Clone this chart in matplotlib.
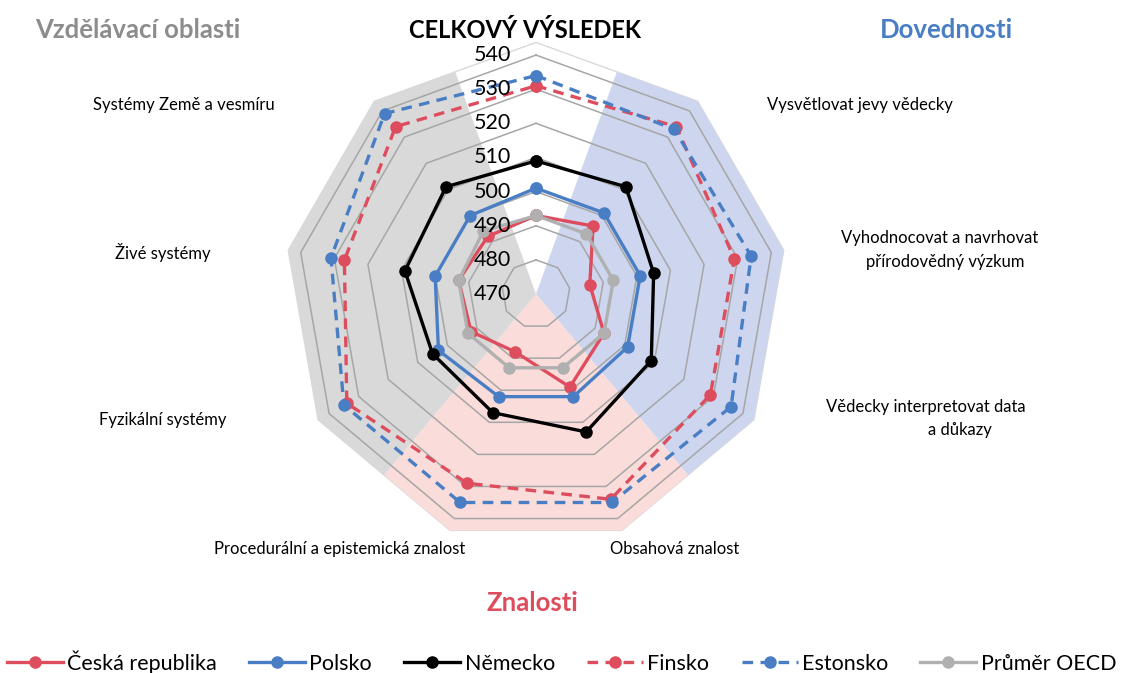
import numpy as np
import matplotlib
matplotlib.use("Agg")
import matplotlib.pyplot as plt
from matplotlib.lines import Line2D

plt.rcParams['font.family'] = ['Lato', 'DejaVu Sans']

# ---------------- data ----------------
categories = ["CELKOVÝ VÝSLEDEK", "Vysvětlovat jevy vědecky",
              "Vyhodnocovat a navrhovat přírodovědný výzkum",
              "Vědecky interpretovat data a důkazy", "Obsahová znalost",
              "Procedurální a epistemická znalost", "Fyzikální systémy",
              "Živé systémy", "Systémy Země a vesmíru"]
series_names = ["Česká republika", "Polsko", "Německo", "Finsko", "Estonsko", "Průměr OECD"]
cz = [493, 496, 486, 493, 499, 488, 492, 493, 492]
pl = [501, 501, 501, 501, 502, 502, 503, 500, 500]
de = [509, 511, 505, 509, 513, 507, 505, 509, 511]
fi = [531, 534, 529, 529, 534, 529, 534, 527, 534]
ee = [534, 533, 534, 536, 535, 535, 535, 531, 539]
oecd = [493, 493, 493, 493, 493, 493, 493, 493, 494]
ring_ticks = [470, 480, 490, 500, 510, 520, 530, 540]
r_min, r_max = 470, 545
bg_level = 543.7

# group sectors (category indices)
groups = {"Dovednosti": [1, 2, 3], "Znalosti": [4, 5], "Vzdělávací oblasti": [6, 7, 8]}
group_colors = {"Dovednosti": "#CDD6EE", "Znalosti": "#FADCDA", "Vzdělávací oblasti": "#D9D9D9"}

styles = [
    dict(color="#DE4D5D", ls="-"),
    dict(color="#4A7EC4", ls="-"),
    dict(color="#000000", ls="-"),
    dict(color="#DE4D5D", ls=(0, (3.2, 2.2))),
    dict(color="#4A7EC4", ls=(0, (3.2, 2.2))),
    dict(color="#B0B0B0", ls="-"),
]

W, H = 1123, 673
fig = plt.figure(figsize=(W / 100, H / 100), dpi=100)
cx, cy, rad = 536, 294, 256
ax = fig.add_axes([(cx - rad) / W, (H - cy - rad) / H, 2 * rad / W, 2 * rad / H], projection='polar')
ax.set_theta_zero_location('N')
ax.set_theta_direction(-1)
ax.set_ylim(r_min, r_max)
ax.axis('off')

n = len(categories)
step = 2 * np.pi / n
theta = np.arange(n) * step
theta_c = np.append(theta, theta[0])

# background nonagon
ax.fill(theta_c, [bg_level] * (n + 1), facecolor="white", edgecolor="#D9D9D9", lw=1.0, zorder=0)
half = step / 2
r_mid = r_min + (bg_level - r_min) * np.cos(half)
for g, idx in groups.items():
    th = [theta[idx[0]] - half] + [theta[i] for i in idx] + [theta[idx[-1]] + half, 0]
    rr = [r_mid] + [bg_level] * len(idx) + [r_mid, r_min]
    ax.fill(th, rr, facecolor=group_colors[g], edgecolor="none", zorder=0.5)

# rings
for v in ring_ticks[1:]:
    ax.plot(theta_c, [v] * (n + 1), color="#A6A6A6", lw=1.1, zorder=1)

# series
all_vals = [cz, pl, de, fi, ee, oecd]
for name, vals, st in zip(series_names, all_vals, styles):
    ax.plot(theta_c, list(vals) + [vals[0]], color=st["color"], ls=st["ls"], lw=2.4,
            marker='o', markersize=8, zorder=3, clip_on=False, label=name)

# radial tick labels
for v in ring_ticks:
    ax.annotate(str(v), xy=(0, v), xytext=(-18, 0), textcoords='offset points',
                ha='right', va='center', fontsize=15.5, color='black', zorder=5,
                annotation_clip=False)

def ft(x, y, s, **kw):
    fig.text(x / W, 1 - y / H, s, ha='center', va='center', **kw)

# category labels
lab = dict(fontsize=12, color='black')
ft(184, 105, categories[8], **lab)
ft(163, 252, categories[7], **lab)
ft(163, 420, categories[6], **lab)
ft(340, 549, categories[5], **lab)
ft(675, 549, categories[4], **lab)
ft(860, 105, categories[1], **lab)
ft(940, 238, "Vyhodnocovat a navrhovat", **lab)
ft(945, 262, "přírodovědný výzkum", **lab)
ft(926, 407, "Vědecky interpretovat data", **lab)
ft(960, 430, "a důkazy", **lab)

# titles
ft(525, 30, categories[0], fontsize=17, fontweight='bold', color='black')
ft(138, 30, "Vzdělávací oblasti", fontsize=18.5, fontweight='bold', color='#8C8C8C')
ft(947, 30, "Dovednosti", fontsize=18.5, fontweight='bold', color='#4A7EC4')
ft(532, 603, "Znalosti", fontsize=18.5, fontweight='bold', color='#DE4D5D')

# legend
handles = [Line2D([0], [0], color=st["color"], ls=st["ls"], lw=2.4, marker='o', markersize=8)
           for st in styles]
fig.legend(handles, series_names, loc='center', bbox_to_anchor=(0.5, 1 - 662 / H), ncol=6,
           frameon=False, fontsize=15.5, handlelength=2.6, handletextpad=0.2, columnspacing=1.5,
           borderaxespad=0, borderpad=0)

fig.savefig("out.png", dpi=100)
